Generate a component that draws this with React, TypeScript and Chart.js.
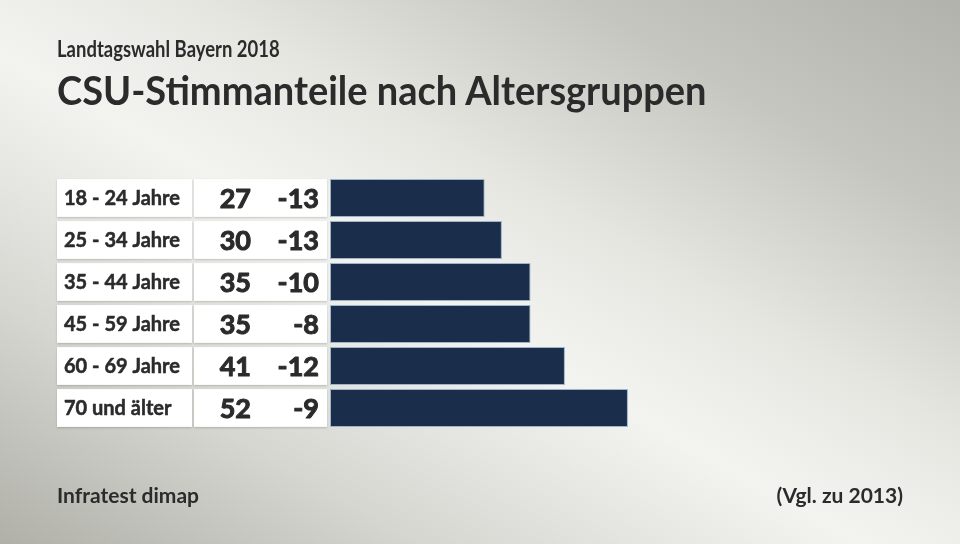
import React, { useEffect, useRef } from "react";
import { Chart, registerables } from "chart.js";

Chart.register(...registerables);

const subtitle = "Landtagswahl Bayern 2018";
const title = "CSU-Stimmanteile nach Altersgruppen";
const source = "Infratest dimap";
const note = "(Vgl. zu 2013)";

const categories = ["18 - 24 Jahre", "25 - 34 Jahre", "35 - 44 Jahre", "45 - 59 Jahre", "60 - 69 Jahre", "70 und älter"];
const shares = [27, 30, 35, 35, 41, 52];
const changes = [-13, -13, -10, -8, -12, -9];

const FONT = "Lato, 'Open Sans', sans-serif";
const TEXT = "#2b2b2b";

const rowPlugin = {
  id: "rowBoxes",
  beforeDatasetsDraw(chart: any) {
    const ctx = chart.ctx as CanvasRenderingContext2D;
    const meta = chart.getDatasetMeta(0);
    meta.data.forEach((bar: any, i: number) => {
      const { y, height } = bar.getProps(["y", "height"], true);
      const top = y - height / 2;
      ctx.save();
      ctx.shadowColor = "rgba(0,0,0,0.18)";
      ctx.shadowBlur = 2;
      ctx.shadowOffsetY = 1;
      ctx.fillStyle = "#ffffff";
      ctx.fillRect(57, top, 135, height);
      ctx.fillRect(194, top, 133, height);
      ctx.restore();

      ctx.save();
      ctx.fillStyle = TEXT;
      ctx.strokeStyle = TEXT;
      ctx.lineJoin = "round";
      ctx.textBaseline = "alphabetic";
      ctx.font = `bold 20px ${FONT}`;
      ctx.textAlign = "left";
      ctx.lineWidth = 0.5;
      ctx.fillText(categories[i], 64, y + 7);
      ctx.strokeText(categories[i], 64, y + 7);
      ctx.font = `bold 27px ${FONT}`;
      ctx.textAlign = "right";
      ctx.lineWidth = 1;
      ctx.fillText(String(shares[i]), 251, y + 10);
      ctx.strokeText(String(shares[i]), 251, y + 10);
      ctx.fillText(String(changes[i]), 319, y + 10);
      ctx.strokeText(String(changes[i]), 319, y + 10);
      ctx.restore();
    });
  },
};

export default function App() {
  const ref = useRef<HTMLCanvasElement>(null);
  useEffect(() => {
    document.body.style.margin = "0";
    let chart: Chart | null = null;
    let cancelled = false;
    const make = () => {
      if (cancelled || !ref.current) return;
      chart = new Chart(ref.current, {
        type: "bar",
        data: {
          labels: categories,
          datasets: [
            {
              data: shares,
              backgroundColor: "#1a2d4b",
              borderColor: "#9fb4cb",
              borderWidth: 1,
              borderSkipped: false,
              barPercentage: 0.9,
              categoryPercentage: 1,
            },
          ],
        },
        options: {
          indexAxis: "y",
          responsive: false,
          animation: false,
          layout: { padding: { left: 330, right: 57, top: 177, bottom: 115 } },
          scales: {
            x: { display: false, min: 0, max: 100 },
            y: { display: false },
          },
          plugins: { legend: { display: false }, tooltip: { enabled: false } },
        },
        plugins: [rowPlugin],
      });
    };
    Promise.all([
      document.fonts.load(`bold 20px Lato`),
      document.fonts.load(`bold 27px Lato`),
    ])
      .catch(() => null)
      .then(make);
    return () => {
      cancelled = true;
      if (chart) chart.destroy();
    };
  }, []);

  const base: React.CSSProperties = {
    position: "absolute",
    color: TEXT,
    fontFamily: FONT,
    fontWeight: 700,
    whiteSpace: "nowrap",
    lineHeight: 1,
    transformOrigin: "left top",
  };

  return (
    <div
      style={{
        position: "fixed",
        left: 0,
        top: 0,
        width: 960,
        height: 544,
        overflow: "hidden",
        background:
          "linear-gradient(to top right, #b0b0a9 0%, #d6d6d1 22%, #f3f3f0 45%, #e6e6e1 60%, #c6c6c0 80%, #b1b2ac 100%)",
      }}
    >
      <canvas ref={ref} width={960} height={544} style={{ position: "absolute", left: 0, top: 0 }} />
      <div style={{ ...base, left: 57, top: 38, fontSize: 22, transform: "scaleX(0.84)" }}>{subtitle}</div>
      <div style={{ ...base, left: 57, top: 70, fontSize: 40, transform: "scaleX(0.95)" }}>{title}</div>
      <div style={{ ...base, left: 57, top: 484, fontSize: 21 }}>{source}</div>
      <div style={{ ...base, right: 57, top: 484, fontSize: 21 }}>{note}</div>
    </div>
  );
}
